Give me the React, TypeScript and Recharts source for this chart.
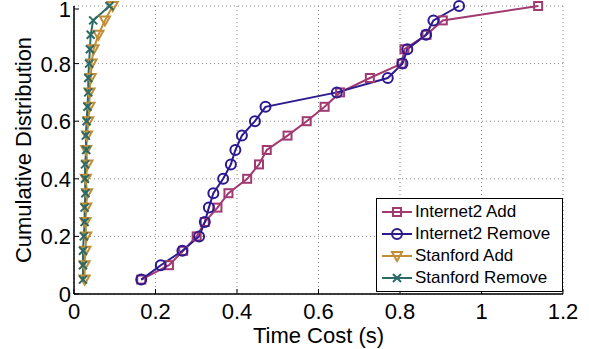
import React from 'react';
import { LineChart, Line, XAxis, YAxis, CartesianGrid, Legend } from 'recharts';

// CDF levels shared by every series (y values)
const cdfLevels = [
  0.05, 0.1, 0.15, 0.2, 0.25, 0.3, 0.35, 0.4, 0.45, 0.5,
  0.55, 0.6, 0.65, 0.7, 0.75, 0.8, 0.85, 0.9, 0.95, 1.0,
];

// time cost (s) at each level
const internet2Add = [
  0.165, 0.233, 0.268, 0.301, 0.321, 0.352, 0.379, 0.425, 0.454, 0.473,
  0.524, 0.571, 0.615, 0.653, 0.726, 0.804, 0.811, 0.865, 0.905, 1.139,
];
const internet2Remove = [
  0.165, 0.213, 0.266, 0.307, 0.321, 0.331, 0.342, 0.366, 0.385, 0.396,
  0.412, 0.444, 0.47, 0.645, 0.77, 0.806, 0.818, 0.864, 0.882, 0.945,
];
const stanfordAdd = [
  0.026, 0.026, 0.028, 0.03, 0.028, 0.03, 0.032, 0.029, 0.033, 0.03,
  0.032, 0.035, 0.038, 0.038, 0.041, 0.043, 0.048, 0.06, 0.076, 0.095,
];
const stanfordRemove = [
  0.022, 0.022, 0.022, 0.024, 0.026, 0.026, 0.028, 0.027, 0.027, 0.03,
  0.029, 0.031, 0.033, 0.035, 0.035, 0.037, 0.039, 0.041, 0.047, 0.087,
];

const xTicks = [0, 0.2, 0.4, 0.6, 0.8, 1, 1.2];
const yTicks = [0, 0.2, 0.4, 0.6, 0.8, 1];

const toPoints = (xs: number[]) => xs.map((x, i) => ({ x, y: cdfLevels[i] }));

const series = [
  { name: 'Internet2 Add', color: '#a03a70', shape: 'square', points: toPoints(internet2Add) },
  { name: 'Internet2 Remove', color: '#2d1a90', shape: 'circle', points: toPoints(internet2Remove) },
  { name: 'Stanford Add', color: '#c28c35', shape: 'triangle', points: toPoints(stanfordAdd) },
  { name: 'Stanford Remove', color: '#2b6a66', shape: 'cross', points: toPoints(stanfordRemove) },
];

const FONT = '"Liberation Sans", Arial, Helvetica, sans-serif';

function marker(shape: string, cx: number, cy: number, color: string, key: string) {
  const common = { stroke: color, strokeWidth: 2, fill: 'none' };
  if (shape === 'square') {
    return <rect key={key} x={cx - 4} y={cy - 4} width={8} height={8} {...common} />;
  }
  if (shape === 'circle') {
    return <circle key={key} cx={cx} cy={cy} r={5} {...common} />;
  }
  if (shape === 'triangle') {
    return (
      <polygon
        key={key}
        points={`${cx - 5},${cy - 4} ${cx + 5},${cy - 4} ${cx},${cy + 5}`}
        {...common}
      />
    );
  }
  return (
    <path
      key={key}
      d={`M${cx - 4},${cy - 4}L${cx + 4},${cy + 4}M${cx - 4},${cy + 4}L${cx + 4},${cy - 4}`}
      {...common}
    />
  );
}

const dotFor = (shape: string, color: string) => (props: any) => {
  const { cx, cy, index } = props;
  const key = `${shape}-${index}`;
  if (cx == null || cy == null) return <g key={key} />;
  return marker(shape, cx, cy, color, key);
};

const BottomTick = ({ x, y, payload }: any) => (
  <g>
    <line x1={x} y1={y} x2={x} y2={y - 5} stroke="#000" />
    <text x={x} y={y + 9} dy="0.71em" textAnchor="middle" fontSize={22} fill="#000" fontFamily={FONT}>
      {String(payload.value)}
    </text>
  </g>
);

const LeftTick = ({ x, y, payload }: any) => (
  <g>
    <line x1={x} y1={y} x2={x + 5} y2={y} stroke="#000" />
    <text x={x - 3} y={y} dy="0.36em" textAnchor="end" fontSize={22} fill="#000" fontFamily={FONT}>
      {String(payload.value)}
    </text>
  </g>
);

const TopTick = ({ x, y }: any) => <line x1={x} y1={y} x2={x} y2={y + 5} stroke="#000" />;
const RightTick = ({ x, y }: any) => <line x1={x} y1={y} x2={x - 5} y2={y} stroke="#000" />;

const LegendBox = () => (
  <div
    style={{
      border: '1px solid #000',
      background: '#fff',
      padding: '2px 0',
      width: 185,
      fontFamily: FONT,
    }}
  >
    {series.map((s) => (
      <div key={s.name} style={{ display: 'flex', alignItems: 'center', height: 22 }}>
        <svg width={38} height={22}>
          <line x1={5} x2={35} y1={11} y2={11} stroke={s.color} strokeWidth={2} />
          {marker(s.shape, 20, 11, s.color, 'm')}
        </svg>
        <span style={{ fontSize: 17, color: '#000', lineHeight: '22px' }}>{s.name}</span>
      </div>
    ))}
  </div>
);

const YLabel = ({ viewBox }: any) => {
  const x = viewBox.x + 23;
  const y = viewBox.y + viewBox.height / 2;
  return (
    <text
      x={x}
      y={y}
      transform={`rotate(-90, ${x}, ${y})`}
      textAnchor="middle"
      dominantBaseline="central"
      fontSize={22}
      fill="#000"
      fontFamily={FONT}
    >
      Cumulative Distribution
    </text>
  );
};

const App = () => {
  return (
    <div
      style={{
        position: 'absolute',
        left: 0,
        top: 0,
        width: 589,
        height: 349,
        background: '#fff',
        fontFamily: FONT,
      }}
    >
      <LineChart width={589} height={349} margin={{ top: 6, right: 26, left: 0, bottom: 0 }}>
        <CartesianGrid stroke="#888" strokeDasharray="1 3" />
        <XAxis
          dataKey="x"
          type="number"
          domain={[0, 1.2]}
          ticks={xTicks}
          height={55}
          tickSize={0}
          tickMargin={0}
          tickLine={false}
          tick={BottomTick}
          axisLine={{ stroke: '#000', strokeWidth: 1.5 }}
          label={{ value: 'Time Cost (s)', position: 'insideBottom', offset: 6, fontSize: 22, fill: '#000' }}
        />
        <XAxis
          xAxisId="top"
          orientation="top"
          type="number"
          domain={[0, 1.2]}
          ticks={xTicks}
          height={0}
          tickSize={0}
          tickMargin={0}
          tickLine={false}
          tick={TopTick}
          axisLine={{ stroke: '#000', strokeWidth: 1.5 }}
        />
        <YAxis
          type="number"
          domain={[0, 1]}
          ticks={yTicks}
          width={74}
          tickSize={0}
          tickMargin={0}
          tickLine={false}
          tick={LeftTick}
          axisLine={{ stroke: '#000', strokeWidth: 1.5 }}
          label={{ value: 'Cumulative Distribution', position: 'center', content: YLabel }}
        />
        <YAxis
          yAxisId="right"
          orientation="right"
          type="number"
          domain={[0, 1]}
          ticks={yTicks}
          width={0}
          tickSize={0}
          tickMargin={0}
          tickLine={false}
          tick={RightTick}
          axisLine={{ stroke: '#000', strokeWidth: 1.5 }}
        />
        {series.map((s) => (
          <Line
            key={s.name}
            data={s.points}
            dataKey="y"
            name={s.name}
            type="linear"
            stroke={s.color}
            strokeWidth={2}
            dot={dotFor(s.shape, s.color)}
            activeDot={false}
            isAnimationActive={false}
          />
        ))}
        <Legend
          layout="vertical"
          align="center"
          verticalAlign="middle"
          wrapperStyle={{ left: 376, top: 198, width: 'auto' }}
          content={<LegendBox />}
        />
      </LineChart>
    </div>
  );
};

export default App;
